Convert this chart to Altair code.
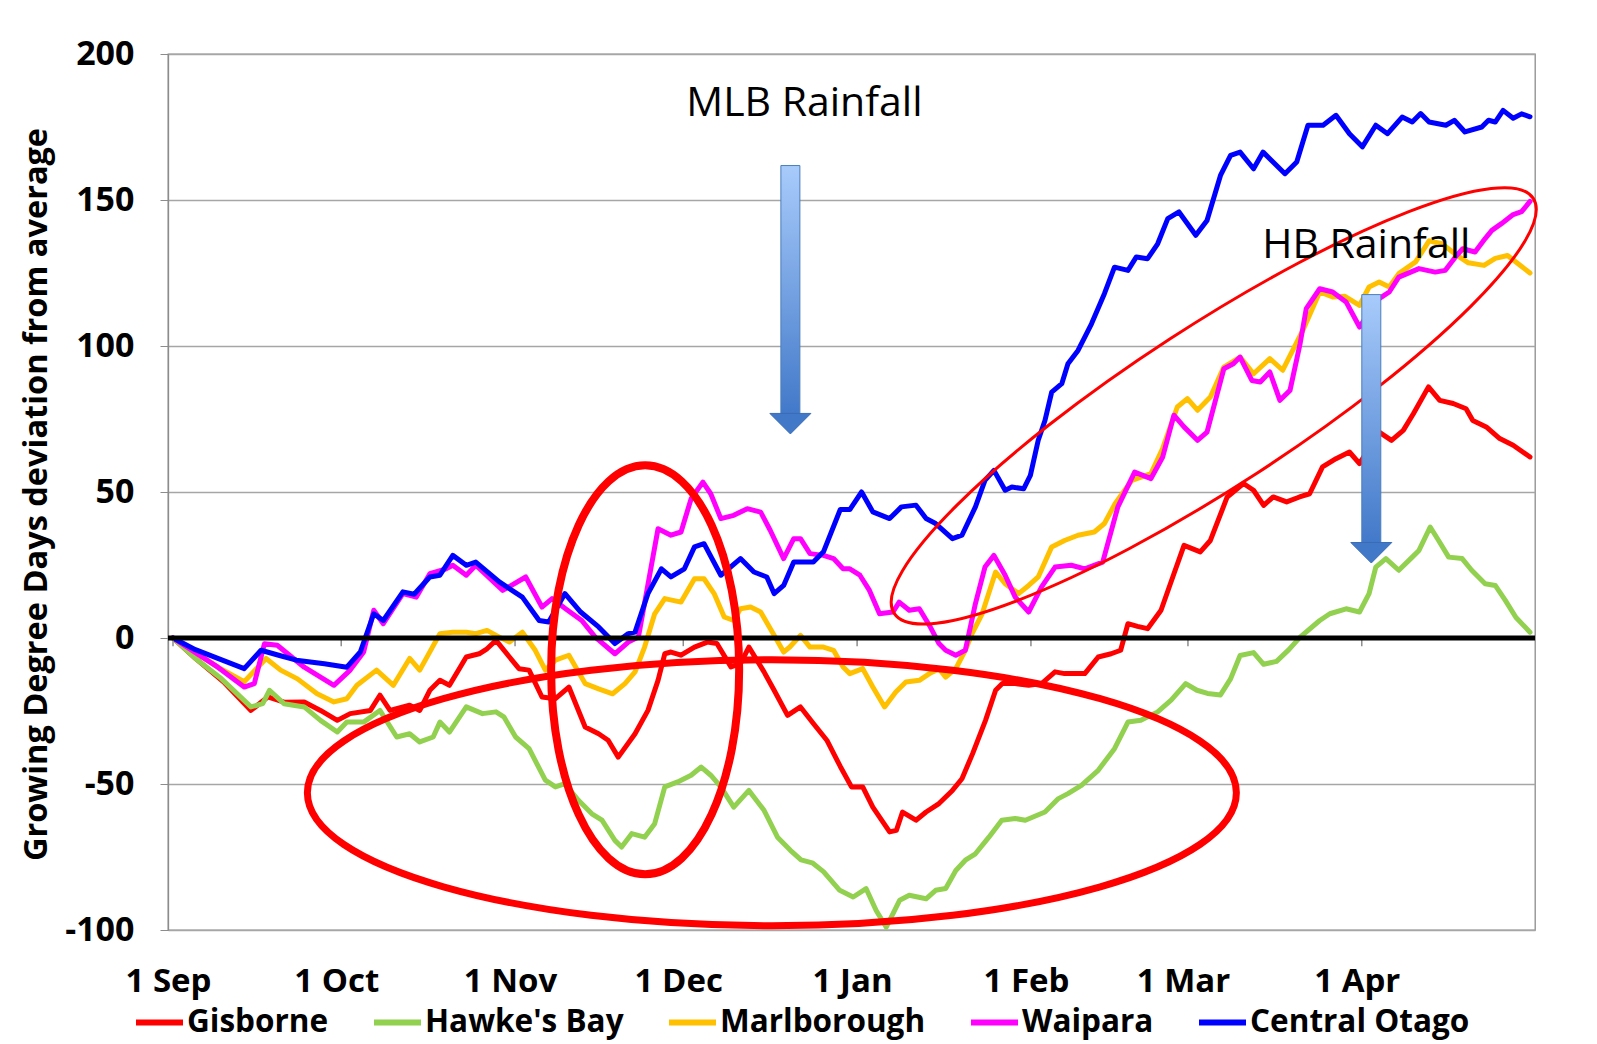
import altair as alt
import pandas as pd

START = pd.Timestamp("2013-09-01")

series_names = ["Gisborne", "Hawke's Bay", "Marlborough", "Waipara", "Central Otago"]
series_colors = ["#FF0000", "#92D050", "#FFC000", "#FF00FF", "#0000FF"]

# [day since 1 Sep, GDD deviation]
gisborne = [(0,0),(4,-7),(9,-15),(13.9,-24.8),(16.9,-20.2),(19.8,-22),(23.4,-21.9),(26.3,-24.8),(29.3,-28.2),(31.6,-25.9),(35.2,-24.8),(36.9,-19.6),(38.7,-24.8),(42.2,-23),(44,-24.8),(45.8,-17.9),(47.6,-14.5),(49.3,-16.2),(52.3,-6.5),(54.6,-5.4),(56,-3.7),(57.6,-0.8),(60,-6.5),(61.7,-10.5),(63.5,-11),(65.8,-20.2),(68.2,-20.8),(70.6,-16.8),(73.5,-30.5),(75.9,-32.8),(77.6,-35),(79.4,-40.8),(82.4,-32.8),(84.7,-24.8),(86.5,-14.5),(87.7,-5.4),(88.8,-4.8),(90.6,-5.9),(93,-3.1),(95.3,-1.4),(97,-1.9),(99.5,-9.9),(101.2,-8.8),(102.7,-3.1),(105.4,-11.6),(107.2,-17.9),(109.6,-26.5),(111.9,-23.6),(114.2,-29.3),(116.6,-35),(119,-44),(121,-51),(123,-51),(124.8,-57.9),(127.8,-66.4),(129,-65.9),(130.1,-59.6),(132.5,-62.4),(134.3,-59.6),(136.6,-56.7),(139,-52.2),(140.7,-48.2),(142.6,-39.6),(144.9,-28.2),(146.7,-17.9),(147.9,-15.6),(150.2,-15.6),(152.6,-16.2),(154.9,-15.6),(157.3,-11.6),(159,-12.2),(162.6,-12.2),(165,-6.5),(167.3,-5.4),(169,-4.2),(170.3,4.9),(172,4),(173.8,3.2),(176.2,9.5),(178.5,22),(180.3,31.7),(183.2,29.5),(185,33.4),(188,48.3),(190.9,52.9),(192.7,50.6),(194.5,45.4),(196.2,48.3),(198.6,46.6),(200.9,48.3),(202.7,49.4),(205,58.6),(207.4,61.4),(209.8,63.7),(211.6,59.7),(215.1,70.5),(217.3,67.7),(219.4,71.1),(221.2,76.8),(223.9,86),(225.9,81.4),(228.3,80.3),(230.6,78.5),(231.8,74.5),(234.2,72.3),(236.6,68.3),(239,66),(242,62)]

hawkes_bay = [(0,0),(4,-7),(8.6,-13.9),(13.9,-23.6),(16,-22.5),(17.2,-17.9),(19.8,-22.5),(23.4,-23.6),(26.3,-28.2),(29.3,-32.2),(31,-28.8),(34,-28.8),(36.9,-24.8),(39.9,-33.9),(42.2,-32.8),(44,-35.6),(46.4,-33.9),(47.6,-28.8),(49.3,-32.2),(52.3,-23.6),(55.2,-25.9),(57.6,-25.3),(59,-27),(61.1,-33.9),(63.5,-37.9),(66.4,-48.7),(68.2,-51),(69.9,-49.9),(72.3,-55.6),(74.7,-60.2),(76.5,-62.4),(78.8,-69.3),(80,-71.6),(81.8,-67),(84.1,-68.2),(85.9,-63.6),(87.7,-51),(90,-49.3),(92.4,-47),(94.2,-44.2),(95.9,-47),(97.7,-51),(100,-57.9),(102.7,-52.2),(105.4,-59),(107.8,-68.2),(110.1,-72.7),(112,-76),(114,-77),(116,-80),(118.9,-86.4),(121.3,-88.7),(123.6,-85.8),(125.4,-93.3),(127.2,-99),(129.6,-89.8),(131.3,-88.1),(134.3,-89.3),(136,-86.4),(137.8,-85.8),(139.6,-79.6),(141.3,-76.1),(143.1,-73.9),(145.5,-68.2),(147.8,-62.4),(150.2,-61.8),(152,-62.4),(155.5,-59.6),(157.9,-55),(159.6,-53.3),(162,-50.5),(165,-45.3),(167.9,-37.9),(170.3,-28.8),(172.6,-28.2),(175.6,-25.3),(178,-21.3),(180.6,-15.6),(182.6,-17.9),(184.5,-19),(186.8,-19.5),(188.6,-14),(190.3,-6),(192.7,-5),(194.5,-9),(196.8,-8),(199,-4),(201,0.3),(204.5,6),(206.3,8.3),(209.2,10),(211.6,8.9),(213.3,15.2),(214.5,24.3),(216.3,27.2),(218.6,23.2),(221,27.7),(222.2,30),(224.2,38),(225.7,33.4),(227.5,27.7),(229.9,27.2),(231.6,23.2),(234,18.6),(235.8,18),(237.6,12.9),(239.5,7),(242,2)]

marlborough = [(0,0),(4,-5),(8,-10),(12.7,-15),(16.6,-7),(19.2,-11),(22.2,-14),(25.7,-19.1),(28.7,-21.9),(31,-20.8),(32.8,-16.2),(36.3,-11),(39.3,-16.2),(42.2,-7),(44,-11),(47.6,1.5),(49.9,2),(52.3,2),(54,1.5),(56,2.6),(58.2,0.3),(60,-1.4),(62.3,2),(64.6,-4.2),(66.4,-11),(68.2,-7.6),(70.6,-5.9),(73.5,-15.6),(75.9,-17.4),(78.4,-19.1),(80.6,-15.6),(82.4,-11.6),(84.1,-3.1),(85.9,8.3),(87.7,13.5),(90.6,12.3),(93,20.3),(94.7,20.3),(96.5,15.2),(98.3,7.2),(100,6),(101.2,10),(103,10.6),(104.8,8.9),(107.2,0.9),(108.9,-4.8),(110,-3.1),(111.9,0.9),(113.6,-3.1),(116,-3.1),(117.8,-4.2),(119.5,-9.9),(120.7,-12.2),(123,-10.5),(124.8,-16.8),(126.9,-23.6),(128.9,-18.5),(130.7,-15.1),(133.1,-14.5),(134.9,-12.2),(136.6,-10.5),(137.8,-13.4),(139.6,-10.5),(141.3,-4.2),(142.5,1.5),(144.3,8.3),(146.7,22.6),(148.4,18.6),(150.8,15.2),(152.6,18),(154.3,20.9),(156.7,31.2),(159,33.4),(161.4,35.2),(164.3,36.3),(166.1,39.2),(168,46),(171,54),(174.4,56.3),(176.5,65),(179.1,79.1),(180.9,82),(182.7,78),(185,82.5),(187.4,92.8),(190.3,96.2),(192.7,90.5),(195.6,95.7),(197.9,91.7),(201.5,105.4),(204.5,118.5),(206.8,116.8),(209,117),(211.6,113.9),(213.3,120.2),(215.1,121.9),(216.9,120.2),(218.6,124.8),(221.6,128.8),(224,136),(226.3,135),(229,131),(231,128.5),(233.8,127.6),(235.8,130),(238,131),(240,128),(242,125)]

waipara = [(0,0),(4,-5),(8,-10),(12.7,-16.8),(14.5,-15.6),(16.3,-2),(18.6,-2.5),(23.4,-10),(28.7,-16.2),(31.6,-11),(34,-4.8),(35.8,9.5),(37.5,4.9),(41,15.2),(43.4,14),(45.8,22),(48.7,23.7),(49.9,24.9),(52.3,21.5),(54,24.9),(58.8,16.3),(62.9,20.9),(65.8,10.6),(67.6,13.5),(70,10),(72.9,6),(75.3,0.3),(78.8,-5.4),(81.2,-1.4),(83,0.3),(86.5,37.4),(88.8,35.2),(90.6,36.3),(92.4,47.7),(94.5,53.4),(95.9,49.4),(97.7,40.9),(100,42),(102.4,44.3),(104.8,43.1),(106.5,36.9),(108.9,27.2),(110.7,34),(111.9,34),(113.6,28.9),(116,28.3),(117.8,27.2),(119.5,23.7),(120.7,23.7),(122.5,21.5),(124.2,16.3),(126,8.3),(128.4,8.9),(129.5,12.3),(131.3,9.5),(133.1,10),(134.9,4.3),(136.6,-1.9),(137.8,-4.2),(139.6,-5.9),(141.3,-4.2),(143.1,11.8),(144.8,24.3),(146.4,28.3),(148.4,21.5),(150.2,14),(152.6,8.9),(154.9,17.5),(157.3,24.3),(160.2,24.9),(162.6,23.7),(165.8,26),(168.5,44.9),(171.5,56.8),(174.4,54.6),(176.5,62),(178.5,76.3),(180.3,72.3),(182.7,67.7),(184.4,70.5),(187.4,92.2),(189.1,93.9),(190.3,96.2),(192.4,88.2),(193.9,87.7),(195.6,91.1),(197.4,81.4),(199.2,84.8),(201,100.8),(202.1,112.8),(204.5,119.6),(206.8,118.5),(209.2,115.1),(211.6,106.5),(213.5,112),(215.1,116.2),(216.9,118.5),(218.6,123.6),(222.2,126.5),(225.1,125.3),(226.9,125.9),(228.7,130.5),(230,133.3),(232.2,132.2),(234,136.8),(235.2,139.6),(236.9,141.9),(239,145),(240.5,146),(242,149.5)]

central_otago = [(0,0),(4,-4),(8,-7),(12.7,-10.5),(15.7,-4.2),(19,-6),(22,-7.6),(27,-8.8),(31,-10),(33.4,-4.8),(35.8,8.3),(37.5,6),(41,15.8),(43,15),(45.8,20.9),(47.6,21.5),(49.9,28.3),(52.3,24.9),(54,26),(58.2,19.2),(62.3,14),(65.3,6),(67,5.5),(69.9,15.2),(72.7,8.9),(75.9,3.8),(78.8,-1.9),(81.2,1.5),(82.4,2),(84.7,15.2),(87.1,23.7),(88.8,20.9),(91.2,23.7),(93,31.2),(94.7,32.3),(97.7,21.5),(101.2,27.2),(103.6,22.6),(105.9,20.9),(107.2,15.2),(108.9,18),(110.7,26),(114.2,26),(116,29.5),(119,44),(120.7,44),(122.8,50),(124.8,43.2),(127.8,40.9),(129.9,44.9),(132.5,45.5),(134.3,40.9),(136,39.2),(139,34),(140.7,35.2),(143.1,44.9),(144.8,54),(146.4,57.4),(148.4,50.6),(149.6,51.7),(151.7,51.1),(152.9,55.7),(154.3,67.7),(155.5,74.5),(156.7,84.2),(158.5,87.1),(159.6,93.9),(161.4,98.5),(163.8,107.6),(166.1,117.9),(167.9,127),(170.3,125.9),(171.8,130.5),(173.8,129.9),(175.6,135),(177.4,143.6),(179.4,145.9),(182.4,137.9),(184.4,143),(186.8,158.4),(188.6,165.3),(190.3,166.4),(192.7,160.7),(194.4,166.4),(198.3,159),(200.4,163),(202.4,175.6),(205.1,175.6),(207.4,179),(209.8,172.7),(212.1,168.2),(214.5,175.6),(216.6,172.7),(219.2,178.4),(221,176.7),(222.5,179.6),(224,176.7),(227,175.6),(228.5,177.3),(230.4,173.3),(233.4,175),(234.6,177.3),(235.8,176.7),(237.2,180.7),(239,178),(240.5,179.5),(242,178.5)]

series_data = [gisborne, hawkes_bay, marlborough, waipara, central_otago]

y_ticks = [-100, -50, 0, 50, 100, 150, 200]
month_starts = [(2013, 9), (2013, 10), (2013, 11), (2013, 12), (2014, 1), (2014, 2), (2014, 3), (2014, 4)]

# annotations: (label, day, value)
texts = [("MLB Rainfall", 112.6, 183.0), ("HB Rainfall", 212.8, 134.2)]
# arrows: (day, shaft top, head top, head centre)
arrows = [(110.1, 161.8, 76.9, 73.4), (213.7, 117.6, 32.5, 29.2)]
# ellipses: (day, value, rx px, ry px, angle, stroke width)
ellipses = [(106.8, -53.0, 464.5, 133, 0, 7), (84.2, -10.9, 94, 204.5, 0, 8), (185.6, 79.5, 381, 80, 327, 3)]


def iso(day):
    return (START + pd.Timedelta(days=day)).strftime("%Y-%m-%dT%H:%M:%S")


rows = []
for name, pairs in zip(series_names, series_data):
    for d, v in pairs:
        rows.append({"date": iso(d), "value": v, "region": name})
df = pd.DataFrame(rows)

FONT = "Open Sans"
x_dom = [alt.DateTime(year=2013, month=9, date=1), alt.DateTime(year=2014, month=5, date=1)]
x_vals = [alt.DateTime(year=y, month=m, date=1) for y, m in month_starts]

x_enc = alt.X("date:T", scale=alt.Scale(domain=x_dom),
              axis=alt.Axis(title=None, values=x_vals, format="%-d %b", labelFont=FONT,
                            labelFontSize=33, labelFontWeight="bold", labelColor="black",
                            labelPadding=35, labelOffset=-5, ticks=False, domain=False, grid=False,
                            labelFlush=False, labelOverlap=False))
y_enc = alt.Y("value:Q", scale=alt.Scale(domain=[-100, 200], nice=False),
              axis=alt.Axis(title="Growing Degree Days deviation from average",
                            titleFont=FONT, titleFontSize=32.5, titleFontWeight="bold",
                            titleColor="black", titleX=-132, titleY=440, titleAngle=270,
                            titleAlign="center", titleBaseline="middle",
                            values=y_ticks, labelExpr="'' + datum.value",
                            labelFont=FONT, labelFontSize=34,
                            labelFontWeight="bold", labelColor="black", labelPadding=26,
                            tickSize=8, tickColor="#8C8C8C", domainColor="#8C8C8C",
                            domainWidth=1.3, gridColor="#A6A6A6", gridWidth=1.3))

color_enc = alt.Color("region:N", scale=alt.Scale(domain=series_names, range=series_colors),
                      legend=alt.Legend(title=None, orient="none", legendX=-35, legendY=942,
                                        direction="horizontal", symbolType="stroke",
                                        symbolStrokeWidth=6, symbolSize=2209,
                                        labelFont=FONT, labelFontWeight="bold",
                                        labelFontSize=31.5, labelColor="black", labelOffset=1,
                                        columnPadding=33, padding=0, labelLimit=500))

base = alt.Chart(df).mark_line(strokeWidth=5, strokeJoin="round", strokeCap="round").encode(
    x=x_enc, y=y_enc, color=color_enc)
line_layers = [base.transform_filter(alt.datum.region == n) for n in series_names]

tick_df = pd.DataFrame({"date": [f"{y}-{m:02d}-01T00:00:00" for y, m in month_starts],
                        "value": [0] * len(month_starts), "value2": [-2.8] * len(month_starts)})
month_ticks = alt.Chart(tick_df).mark_rule(color="#8C8C8C", strokeWidth=1.5).encode(
    x="date:T", y="value:Q", y2="value2:Q")

zero_df = pd.DataFrame({"value": [0]})
zero_line = alt.Chart(zero_df).mark_rule(color="black", strokeWidth=5).encode(y="value:Q")


def ellipse_path(rx, ry):
    k = 0.5523
    f = lambda v: f"{v:.4f}"
    return (f"M{f(rx)},0 C{f(rx)},{f(k*ry)} {f(k*rx)},{f(ry)} 0,{f(ry)} "
            f"C{f(-k*rx)},{f(ry)} {f(-rx)},{f(k*ry)} {f(-rx)},0 "
            f"C{f(-rx)},{f(-k*ry)} {f(-k*rx)},{f(-ry)} 0,{f(-ry)} "
            f"C{f(k*rx)},{f(-ry)} {f(rx)},{f(-k*ry)} {f(rx)},0 Z")


ellipse_layers = []
for d, v, rx, ry, ang, sw in ellipses:
    m = max(rx, ry)
    e_df = pd.DataFrame({"date": [iso(d)], "value": [v]})
    ellipse_layers.append(
        alt.Chart(e_df).mark_point(shape=ellipse_path(rx / m, ry / m), size=(2 * m) ** 2,
                                   angle=ang, filled=False, stroke="#FF0000",
                                   strokeWidth=sw, opacity=1).encode(x="date:T", y="value:Q"))

grad = alt.LinearGradient(gradient="linear", x1=0, x2=0, y1=0, y2=1,
                          stops=[alt.GradientStop(color="#A8CBFB", offset=0),
                                 alt.GradientStop(color="#4279C9", offset=1)])
arrow_df = pd.DataFrame({"date": [iso(a[0]) for a in arrows],
                         "value": [a[1] for a in arrows],
                         "value2": [a[2] for a in arrows],
                         "head": [a[3] for a in arrows]})
shafts = alt.Chart(arrow_df).mark_bar(width=19, fill=grad, stroke="#4A7EBB", strokeWidth=1).encode(
    x="date:T", y="value:Q", y2="value2:Q")
heads = alt.Chart(arrow_df).mark_point(shape="M-1,-0.5L1,-0.5L0,0.5Z", size=1681, filled=True,
                                       fill="#4179C8", stroke="#3A6DB5", strokeWidth=1,
                                       opacity=1).encode(x="date:T", y="head:Q")

text_df = pd.DataFrame({"date": [iso(t[1]) for t in texts], "value": [t[2] for t in texts],
                        "label": [t[0] for t in texts]})
labels = alt.Chart(text_df).mark_text(font=FONT, fontSize=41, color="black", align="center",
                                      baseline="middle").encode(x="date:T", y="value:Q", text="label:N")

chart = alt.layer(*line_layers, month_ticks, zero_line, *ellipse_layers, shafts, heads, labels).properties(
    width=1367, height=876,
    padding={"left": 160, "top": 46, "right": 38, "bottom": 112},
    autosize=alt.AutoSizeParams(type="none"),
    background="white",
).configure_view(stroke="#8C8C8C", strokeWidth=1.3)

chart.save("out.html", embed_options={"renderer": "svg", "actions": False})
